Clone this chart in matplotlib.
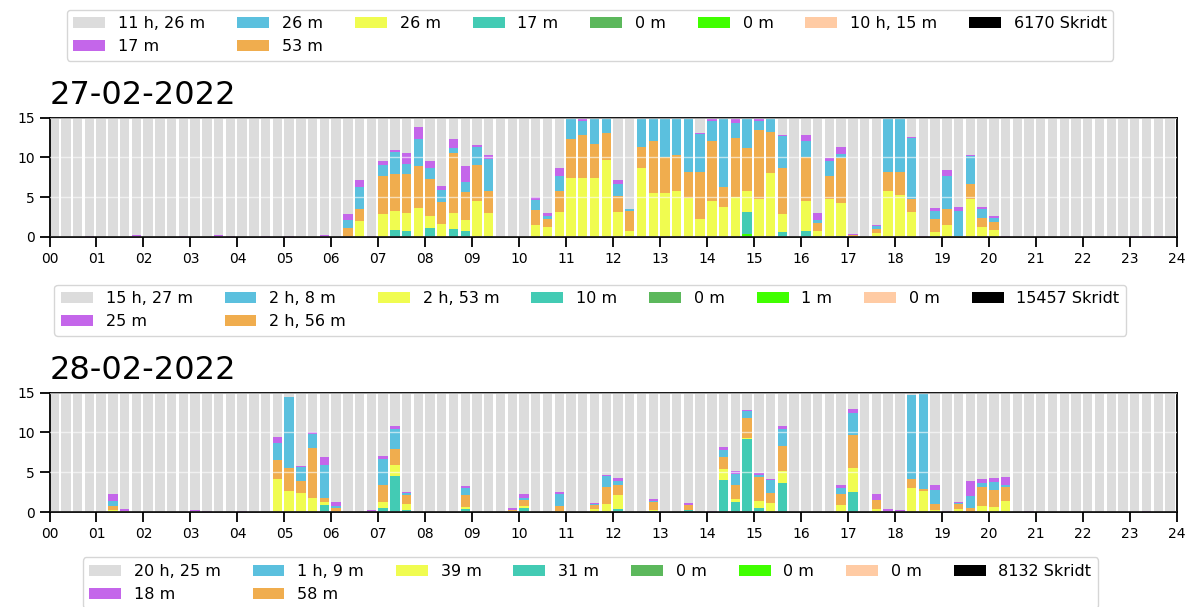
import numpy as np
import matplotlib.pyplot as plt
from matplotlib.patches import Patch

# colours, in legend order
colors = {
    'gray': '#dcdcdc', 'purple': '#c466ea', 'blue': '#5bc0de', 'orange': '#f0ad4e',
    'yellow': '#f0fc50', 'teal': '#43cbb4', 'green': '#5cb85c', 'lime': '#40ff00',
    'peach': '#ffcba4', 'black': '#000000',
}
legend_keys = ['gray', 'purple', 'blue', 'orange', 'yellow', 'teal', 'green', 'lime', 'peach', 'black']
stack_keys = ['green', 'lime', 'teal', 'yellow', 'orange', 'blue', 'purple']

# legend labels (same order as legend_keys)
labels_prev = ['11 h, 26 m', '17 m', '26 m', '53 m', '26 m', '17 m', '0 m', '0 m', '10 h, 15 m', '6170 Skridt']
labels_27 = ['15 h, 27 m', '25 m', '2 h, 8 m', '2 h, 56 m', '2 h, 53 m', '10 m', '0 m', '1 m', '0 m', '15457 Skridt']
labels_28 = ['20 h, 25 m', '18 m', '1 h, 9 m', '58 m', '39 m', '31 m', '0 m', '0 m', '0 m', '8132 Skridt']

# ---- 27-02-2022, minutes per 15-min slot ----
slots_27 = [3, 7, 11, 14, 15, 18, 20, 23, 25, 26, 27, 28, 29, 30, 31, 32, 33, 34, 35, 36, 37,
            41, 42, 43, 44, 45, 46, 47, 48, 49, 50, 51, 52, 53, 54, 55, 56, 57, 58, 59, 60, 61, 62,
            64, 65, 66, 67, 68, 70, 71, 72, 73, 74, 75, 76, 77, 78, 79, 80, 81, 92, 93, 94]
lime_27 = [0, 0, 0, 0, 0, 0, 0, 0, 0, 0, 0, 0, 0, 0, 0, 0, 0, 0, 0, 0, 0,
           0, 0, 0, 0, 0, 0, 0, 0, 0, 0, 0, 0, 0, 0, 0, 0, 0, 0, 0.33, 0, 0, 0,
           0, 0, 0, 0, 0, 0, 0, 0, 0, 0, 0, 0, 0, 0, 0, 0, 0, 0, 0, 0]
teal_27 = [0, 0, 0, 0, 0, 0, 0, 0, 0, 0, 0, 0, 0.85, 0.7, 0, 1.1, 0, 0.95, 0.7, 0, 0.15,
           0, 0, 0, 0, 0, 0, 0, 0, 0, 0, 0, 0, 0, 0, 0, 0, 0, 0, 2.8, 0, 0, 0.6,
           0.7, 0, 0, 0.1, 0, 0, 0, 0, 0, 0, 0, 0, 0, 0, 0, 0, 0, 0, 0, 0]
yellow_27 = [0, 0, 0, 0, 0, 0, 0, 0, 0, 2.0, 0, 2.85, 2.4, 2.25, 3.65, 1.5, 1.6, 2.0, 1.4, 4.5, 2.8,
             1.45, 1.2, 3.1, 7.35, 7.35, 7.35, 9.65, 3.1, 0.7, 8.6, 5.55, 5.55, 5.8, 4.95, 2.25, 4.55, 3.75, 5.0, 2.7, 4.8, 8.0, 2.25,
             3.85, 0.7, 4.8, 4.15, 0, 0.45, 5.8, 5.3, 3.15, 0, 0.6, 1.45, 0.15, 4.8, 1.25, 0.9, 0, 0, 0, 0]
orange_27 = [0, 0, 0, 0, 0, 0, 0, 0, 1.1, 1.5, 0, 4.85, 4.7, 4.9, 5.2, 4.65, 2.8, 7.55, 3.55, 4.6, 2.85,
             1.9, 1.0, 2.7, 4.95, 5.45, 4.35, 3.45, 2.05, 2.5, 2.65, 6.45, 4.45, 4.5, 3.2, 5.85, 7.45, 2.5, 7.4, 5.35, 8.65, 5.2, 5.8,
             5.55, 1.0, 2.9, 5.65, 0.2, 0.5, 2.4, 2.8, 1.65, 0, 1.65, 2.0, 0, 1.9, 1.15, 0.95, 0, 0, 0, 0]
blue_27 = [0, 0, 0, 0, 0, 0, 0, 0, 1.0, 2.8, 0, 1.3, 2.7, 1.35, 3.4, 1.4, 1.55, 0.65, 1.3, 2.15, 3.95,
           1.35, 0.4, 1.9, 2.7, 1.8, 3.2, 1.8, 1.55, 0.25, 3.75, 3.0, 5.0, 4.7, 6.85, 4.8, 2.55, 8.75, 1.9, 3.82, 1.1, 1.8, 4.05,
           1.9, 0.4, 1.8, 0.5, 0, 0.4, 6.8, 6.9, 7.6, 0, 1.05, 4.15, 3.1, 3.45, 1.05, 0.55, 0, 0, 0, 0]
purple_27 = [0.15, 0.3, 0.1, 0.3, 0.1, 0.1, 0.1, 0.2, 0.8, 0.8, 0.15, 0.5, 0.25, 1.4, 1.55, 0.85, 0.4, 1.1, 1.9, 0.3, 0.6,
             0.3, 0.4, 1.0, 0, 0.4, 0.1, 0.1, 0.4, 0, 0, 0, 0, 0, 0, 0.15, 0.45, 0, 0.7, 0, 0.45, 0, 0.15,
             0.8, 0.9, 0.4, 0.85, 0.15, 0.15, 0, 0, 0.12, 0.1, 0.4, 0.75, 0.5, 0.15, 0.35, 0.25, 0.1, 0.1, 0.1, 0.1]

# ---- 28-02-2022 ----
slots_28 = [5, 6, 12, 13, 16, 19, 20, 21, 22, 23, 24, 27, 28, 29, 30, 35, 39, 40, 43, 46, 47, 48, 51, 54,
            56, 57, 58, 59, 60, 61, 62, 67, 68, 70, 71, 72, 73, 74, 75, 76, 77, 78, 79, 80, 81, 83, 93]
teal_28 = [0, 0, 0, 0, 0, 0, 0, 0, 0, 0.9, 0, 0, 0.5, 4.5, 0.3, 0.35, 0, 0.5, 0, 0, 0, 0.4, 0.15, 0.2,
           0, 4.0, 1.25, 9.15, 0.5, 0, 3.7, 0, 2.55, 0, 0, 0, 0, 0, 0, 0, 0, 0, 0, 0, 0, 0, 0]
yellow_28 = [0.25, 0, 0, 0, 0, 4.1, 2.6, 2.35, 1.8, 0.4, 0, 0, 0.75, 1.45, 0.75, 0.25, 0, 0.3, 0.15, 0.35, 1.05, 1.75, 0.15, 0,
             0, 1.4, 0.4, 0.2, 0.9, 1.15, 1.4, 0.9, 2.95, 0.4, 0, 0, 3.05, 2.65, 0.3, 0, 0.4, 0, 0.75, 0.6, 1.4, 0, 0]
orange_28 = [0.45, 0.1, 0, 0, 0, 2.4, 2.9, 1.5, 6.25, 0.45, 0.5, 0, 2.2, 1.95, 1.1, 1.5, 0.3, 0.7, 0.65, 0.5, 2.05, 1.3, 0.95, 0.7,
             0, 1.55, 1.7, 2.4, 3.05, 1.2, 3.15, 1.4, 4.2, 1.15, 0, 0, 1.05, 0.3, 0.75, 0, 0.6, 0.5, 2.35, 2.2, 1.7, 0, 0]
blue_28 = [0.65, 0, 0, 0, 0, 2.2, 8.9, 1.8, 1.7, 4.2, 0.3, 0, 3.2, 2.55, 0.2, 0.95, 0, 0.25, 1.4, 0.1, 1.4, 0.5, 0.15, 0,
           0, 0.85, 1.45, 0.9, 0.25, 1.7, 2.2, 0.75, 2.7, 0, 0, 0, 10.6, 12.05, 1.75, 0, 0.15, 1.55, 0.5, 1.0, 0.3, 0, 0]
purple_28 = [0.85, 0.25, 0.25, 0.15, 0.15, 0.75, 0, 0.12, 0.25, 0.9, 0.5, 0.25, 0.35, 0.3, 0.2, 0.2, 0.25, 0.45, 0.25, 0.15, 0.15, 0.35, 0.25, 0.2,
             0.1, 0.35, 0.3, 0.2, 0.15, 0.15, 0.4, 0.3, 0.55, 0.65, 0.4, 0.3, 0, 0, 0.55, 0.15, 0.1, 1.8, 0.5, 0.5, 0.95, 0.15, 0.1]

days = [
    ('27-02-2022', slots_27, {'lime': lime_27, 'teal': teal_27, 'yellow': yellow_27, 'orange': orange_27,
                              'blue': blue_27, 'purple': purple_27}, labels_27),
    ('28-02-2022', slots_28, {'teal': teal_28, 'yellow': yellow_28, 'orange': orange_28,
                              'blue': blue_28, 'purple': purple_28}, labels_28),
]

fig = plt.figure(figsize=(11.9, 6.07), dpi=100)


def make_handles():
    return [Patch(facecolor=colors[k], edgecolor='none') for k in legend_keys]


fig.legend(make_handles(), labels_prev, loc='upper center', bbox_to_anchor=(0.496, 0.997),
           ncol=8, fontsize=11.5, frameon=True)

axes_pos = [[0.0416, 0.6096, 0.9475, 0.1968], [0.0416, 0.1565, 0.9475, 0.1968]]
legend_y = [0.544, 0.095]
x = np.arange(96) * 0.25

for (title, slots, series, labels), pos, ly in zip(days, axes_pos, legend_y):
    ax = fig.add_axes(pos)
    bottom = np.zeros(96)
    for key in stack_keys:
        vals = np.zeros(96)
        if key in series:
            vals[slots] = series[key]
        ax.bar(x, vals, width=0.2, bottom=bottom, align='edge', color=colors[key], linewidth=0)
        bottom = bottom + vals
    gray = np.clip(15 - bottom, 0, None)
    ax.bar(x, gray, width=0.2, bottom=bottom, align='edge', color=colors['gray'], linewidth=0)

    ax.set_xlim(0, 24)
    ax.set_ylim(0, 15)
    ax.set_xticks(range(25))
    ax.set_xticklabels(['%02d' % h for h in range(25)])
    ax.set_yticks([0, 5, 10, 15])
    ax.yaxis.grid(True, color='white', alpha=0.6, linewidth=1)
    ax.set_axisbelow(False)
    ax.tick_params(length=7, width=1.3, labelsize=10)
    for s in ax.spines.values():
        s.set_linewidth(1.3)
    ax.set_title(title, loc='left', fontsize=23, pad=10)

    ax.legend(make_handles(), labels, loc='upper center', bbox_to_anchor=(0.496, ly),
              bbox_transform=fig.transFigure, ncol=8, fontsize=11.5, frameon=True)

plt.savefig('out.png')
